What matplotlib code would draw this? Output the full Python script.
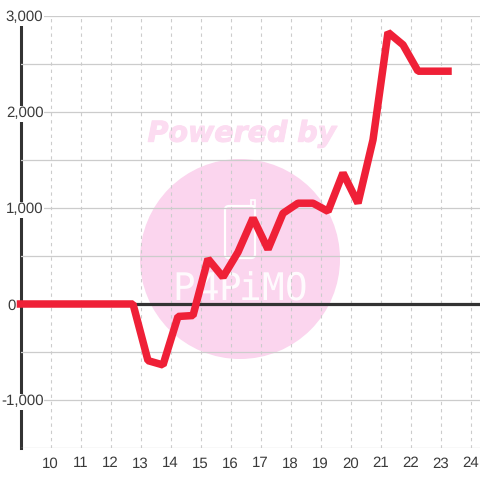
import matplotlib
matplotlib.use("Agg")
import matplotlib.pyplot as plt
import matplotlib.patheffects as pe
from matplotlib.patches import Ellipse, FancyBboxPatch, Rectangle

hours = [9, 9.75, 10.25, 10.75, 11.25, 11.75, 12.25, 12.75, 13.25, 13.75, 14.25, 14.75,
         15.25, 15.75, 16.25, 16.75, 17.25, 17.75, 18.25, 18.75, 19.25, 19.75, 20.25,
         20.75, 21.25, 21.75, 22.25, 22.75, 23.25]
values = [0, 0, 0, 0, 0, 0, 0, 0, -590, -635, -130, -120,
          470, 280, 540, 895, 570, 945, 1050, 1050, 965, 1365, 1050,
          1710, 2830, 2700, 2425, 2425, 2425]
x_ticks = list(range(10, 25))
y_major = [-1000, 0, 1000, 2000, 3000]
y_labels = ["-1,000", "0", "1,000", "2,000", "3,000"]
y_minor = [-1500, -500, 500, 1500, 2500]

INK = "#3a3a3a"
GRID = "#cccccc"
RED = "#ef2037"
PINK = "#fbd5ee"
PINK_TXT = "#fcdcf1"

plt.rcParams["font.family"] = ["Liberation Sans", "DejaVu Sans"]
plt.rcParams["text.hinting"] = "no_hinting"
W = 480
fig = plt.figure(figsize=(4.8, 4.8), dpi=100, facecolor="white")
ax = fig.add_axes([20.5 / W, (W - 448) / W, (W - 20.5) / W, 432 / W])
ax.set_xlim(9, 9 + (W - 20.5) / 30)
ax.set_ylim(-1500, 3000)
for s in ("top", "right", "bottom"):
    ax.spines[s].set_visible(False)
ax.spines["left"].set_linewidth(2.2)
ax.spines["left"].set_color("#333333")
ax.set_axisbelow(False)

# watermark (figure pixel coordinates)
def px(x, y):
    return x / W, 1 - y / W

fig.add_artist(Ellipse(px(240, 259), 200 / W, 200 / W, transform=fig.transFigure,
                       facecolor=PINK, edgecolor="none", zorder=-5))
fig.text(*px(242, 134), "Powered by", family="DejaVu Sans", weight="bold", style="oblique",
         fontsize=20.5, color=PINK_TXT, ha="center", va="center", zorder=-5,
         path_effects=[pe.withStroke(linewidth=0.8, foreground=PINK_TXT)])
fig.add_artist(FancyBboxPatch(px(225, 258), 30 / W, 52 / W, transform=fig.transFigure,
                              boxstyle="round,pad=0,rounding_size=0.008",
                              facecolor="none", edgecolor="white", linewidth=1.6, zorder=-4))
fig.add_artist(Rectangle(px(251, 206), 4 / W, 6 / W, transform=fig.transFigure,
                         facecolor="none", edgecolor="white", linewidth=1.2, zorder=-4))
for cx, ch in zip([184, 207, 230, 250, 273, 296], "P4PiMO"):
    fig.text(*px(cx, 289), ch, family="DejaVu Sans Mono", weight="normal", fontsize=27,
             color="white", ha="center", va="center", alpha=0.9, zorder=-4)
ax.patch.set_alpha(0)

ax.set_xticks(x_ticks)
ax.set_yticks(y_major)
ax.set_yticklabels(y_labels)
ax.set_yticks(y_minor, minor=True)
ax.grid(True, axis="y", which="major", color=GRID, linewidth=0.9)
ax.grid(True, axis="y", which="minor", color=GRID, linewidth=0.9)
ax.grid(True, axis="x", which="major", color=GRID, linewidth=0.8, linestyle=(0, (3, 3.5)))
ax.tick_params(axis="both", which="both", length=0)
ax.tick_params(axis="x", labelsize=10.8, labelcolor=INK, pad=6.2)
ax.tick_params(axis="y", labelsize=10.8, labelcolor=INK, pad=-16.5)
ax.yaxis.get_major_ticks()[1].set_pad(3.2)
for lab, text in zip(ax.get_yticklabels(), y_labels):
    if text != "0":
        lab.set_bbox(dict(facecolor="white", edgecolor="none", pad=0.8))

ax.axhline(0, color="#333333", linewidth=2.3, zorder=3)
ax.plot(hours, values, color=RED, linewidth=5.4, solid_joinstyle="bevel",
        solid_capstyle="projecting", clip_on=False, zorder=5)

fig.savefig("out.png", dpi=100)
